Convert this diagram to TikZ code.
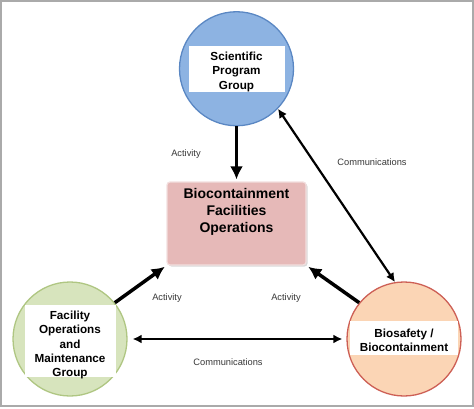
\documentclass[tikz,border=0pt]{standalone}
\usepackage{fontspec}
\setmainfont{Liberation Sans}
\usetikzlibrary{shapes,positioning,shadows,arrows.meta}
\definecolor{sciblue}{RGB}{141,179,226}
\definecolor{sciedge}{RGB}{90,135,195}
\definecolor{facgreen}{RGB}{215,228,189}
\definecolor{facedge}{RGB}{175,198,130}
\definecolor{bioorange}{RGB}{251,213,181}
\definecolor{bioedge}{RGB}{205,95,85}
\definecolor{opspink}{RGB}{230,185,184}
\definecolor{opsedge}{RGB}{242,222,222}
\definecolor{lblgray}{RGB}{55,55,55}
\definecolor{framegray}{RGB}{170,170,170}
\tikzstyle{circ}=   [draw,
circle,
minimum size=114pt,
line width=1.3pt,
inner sep=0,
]
\tikzstyle{band}=   [fill=white,
rectangle,
inner sep=0,
]
\tikzstyle{circtext}= [font=\fontsize{11.7}{14.3}\selectfont\bfseries,
align=center,
inner sep=0,
]
\tikzstyle{opstext}= [font=\fontsize{14}{17.3}\selectfont\bfseries,
align=center,
inner sep=0,
]
\tikzstyle{lbl}=    [font=\fontsize{9.3}{11}\selectfont,
text=lblgray,
]
\tikzstyle{act}=    [-{Latex[length=13pt,width=13pt]}, line width=3.5pt]
\tikzstyle{comm}=   [{Latex[length=9pt,width=9pt]}-{Latex[length=9pt,width=9pt]}, line width=2.2pt]

\begin{document}
\begin{tikzpicture}[x=1pt, y=-1pt]
        \useasboundingbox (0,0) rectangle (474,409);
        \draw[framegray, line width=2pt] (1,1) rectangle (473,406);

        \node[draw=opsedge, line width=1.2pt, fill=opspink, rounded corners=3pt, minimum width=139pt, minimum height=83pt,
        drop shadow={shadow xshift=1.5pt, shadow yshift=-1.5pt, fill=black!30}] (ops) at (236.5,223.5) {};
        \node[opstext] (ops_text) at (236.5,212) {Biocontainment\\Facilities\\Operations};

        \node[circ, fill=sciblue, draw=sciedge, above=55pt of ops] (sci) {};
        \node[band, minimum width=96pt, minimum height=46pt] (sci_band) at (sci) {};
        \node[circtext] (sci_text) at ([yshift=-3pt]sci) {Scientific\\Program\\Group};

        \node[circ, fill=facgreen, draw=facedge] (fac) at (70,339) {};
        \node[band, minimum width=91pt, minimum height=72pt] (fac_band) at ([yshift=-2pt]fac) {};
        \node[circtext] (fac_text) at ([yshift=-6pt]fac) {Facility\\Operations\\and\\Maintenance\\Group};

        \node[circ, fill=bioorange, draw=bioedge] (bio) at (404,339) {};
        \node[band, minimum width=108pt, minimum height=34pt] (bio_band) at ([yshift=1pt]bio) {};
        \node[circtext] (bio_text) at ([yshift=-1pt]bio) {Biosafety /\\Biocontainment};

        \node[lbl] (act_sci) at (186,154) {Activity};
        \node[lbl] (act_fac) at (167,298) {Activity};
        \node[lbl] (act_bio) at (286,298) {Activity};
        \node[lbl] (comm_sci) at (372,162) {Communications};
        \node[lbl] (comm_fac) at (228,362) {Communications};

        \draw[act, shorten >=2pt] (sci) -- (ops);
        \draw[act, shorten >=2pt] (fac.39) -- (ops.south west);
        \draw[act, shorten >=2pt] (bio.141) -- (ops.south east);
        \draw[comm] (sci.-44) -- (bio.99);
        \draw[comm, shorten <=5pt, shorten >=4pt] (fac) -- (bio);
    \end{tikzpicture}
\end{document}
